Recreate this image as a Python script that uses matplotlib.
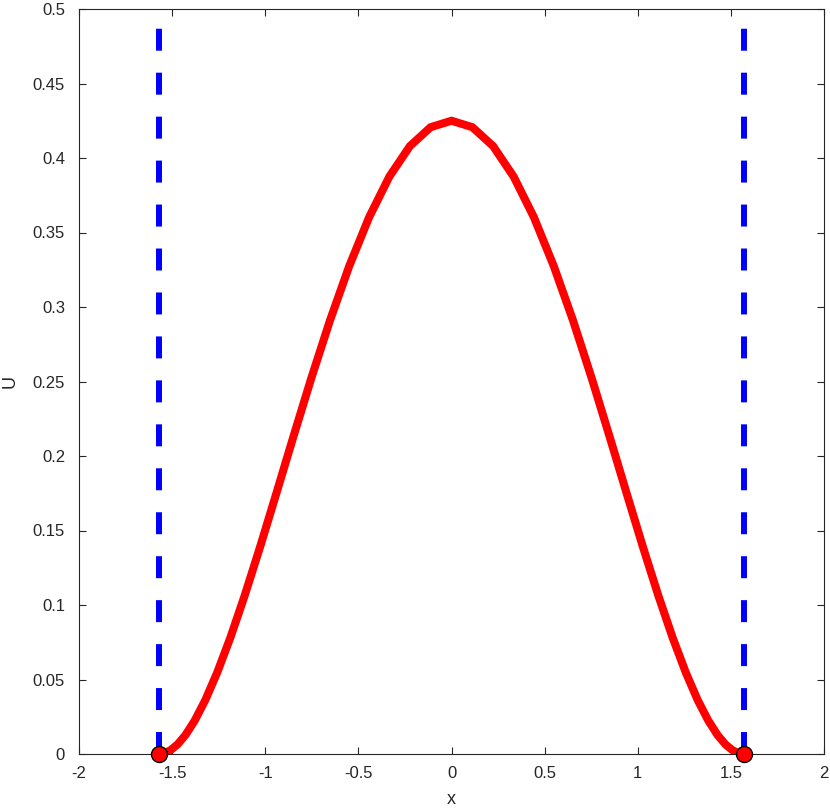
import numpy as np
import matplotlib
matplotlib.use("Agg")
import matplotlib.pyplot as plt

plt.rcParams['font.family'] = ['Liberation Sans', 'DejaVu Sans']

# Sample positions (45 points, denser near the ends) and read-off U values (left half + centre)
x_left = [-1.5708, -1.5668, -1.5548, -1.5349, -1.5072, -1.4717, -1.4288, -1.3787,
          -1.3214, -1.2575, -1.1871, -1.1107, -1.0286, -0.9413, -0.8492, -0.7528,
          -0.6525, -0.5489, -0.4425, -0.3339, -0.2235, -0.1121, 0.0]
u_left = [0.0, 0.00001, 0.00017, 0.00087, 0.00268, 0.00634, 0.01266, 0.02242,
          0.03631, 0.05482, 0.07816, 0.10625, 0.13864, 0.17455, 0.21286, 0.25222,
          0.29097, 0.32752, 0.36020, 0.38746, 0.40796, 0.42068, 0.42500]
# right half mirrors the left half
x_right = [0.1121, 0.2235, 0.3339, 0.4425, 0.5489, 0.6525, 0.7528, 0.8492,
           0.9413, 1.0286, 1.1107, 1.1871, 1.2575, 1.3214, 1.3787, 1.4288,
           1.4717, 1.5072, 1.5349, 1.5548, 1.5668, 1.5708]
u_right = [0.42068, 0.40796, 0.38746, 0.36020, 0.32752, 0.29097, 0.25222, 0.21286,
           0.17455, 0.13864, 0.10625, 0.07816, 0.05482, 0.03631, 0.02242, 0.01266,
           0.00634, 0.00268, 0.00087, 0.00017, 0.00001, 0.0]
boundary_x = [-1.5708, 1.5708]
boundary_y = [0.0, 0.5]
x_ticks = [-2, -1.5, -1, -0.5, 0, 0.5, 1, 1.5, 2]
x_ticklabels = ['-2', '-1.5', '-1', '-0.5', '0', '0.5', '1', '1.5', '2']
y_ticks = [0, 0.05, 0.1, 0.15, 0.2, 0.25, 0.3, 0.35, 0.4, 0.45, 0.5]
y_ticklabels = ['0', '0.05', '0.1', '0.15', '0.2', '0.25', '0.3', '0.35', '0.4', '0.45', '0.5']

x_vals = x_left + x_right
u_vals = u_left + u_right

fig = plt.figure(figsize=(8.30, 8.09), dpi=100)
ax = fig.add_axes([79/830, 1-754/809, 745/830, 745/809])

for bx in boundary_x:
    ax.plot([bx, bx], boundary_y, color='#0000ff', linewidth=4.3,
            dashes=(3.68, 3.68), solid_capstyle='butt', dash_capstyle='butt', zorder=2)

ax.plot(x_vals, u_vals, color='#ff0000', linewidth=5.8, solid_joinstyle='miter', zorder=3)
ax.plot([x_vals[0], x_vals[-1]], [u_vals[0], u_vals[-1]], linestyle='none', marker='o',
        markersize=11.5, markerfacecolor='#ff0000', markeredgecolor='black',
        markeredgewidth=1.0, zorder=4, clip_on=False)

ax.set_xlim(-2, 2)
ax.set_ylim(0, 0.5)
ax.set_xticks(x_ticks)
ax.set_xticklabels(x_ticklabels)
ax.set_yticks(y_ticks)
ax.set_yticklabels(y_ticklabels)
ax.tick_params(direction='in', length=5, width=0.8, top=True, right=True,
               labelsize=12, colors='#262626')
ax.tick_params(axis='x', pad=8.5)
ax.tick_params(axis='y', pad=10)
for s in ax.spines.values():
    s.set_color('#262626')
    s.set_linewidth(0.8)
ax.set_xlabel('x', fontsize=13, color='#262626', labelpad=7)
ax.set_ylabel('U', fontsize=13, color='#262626', labelpad=10)

fig.savefig('out.png', dpi=100)
